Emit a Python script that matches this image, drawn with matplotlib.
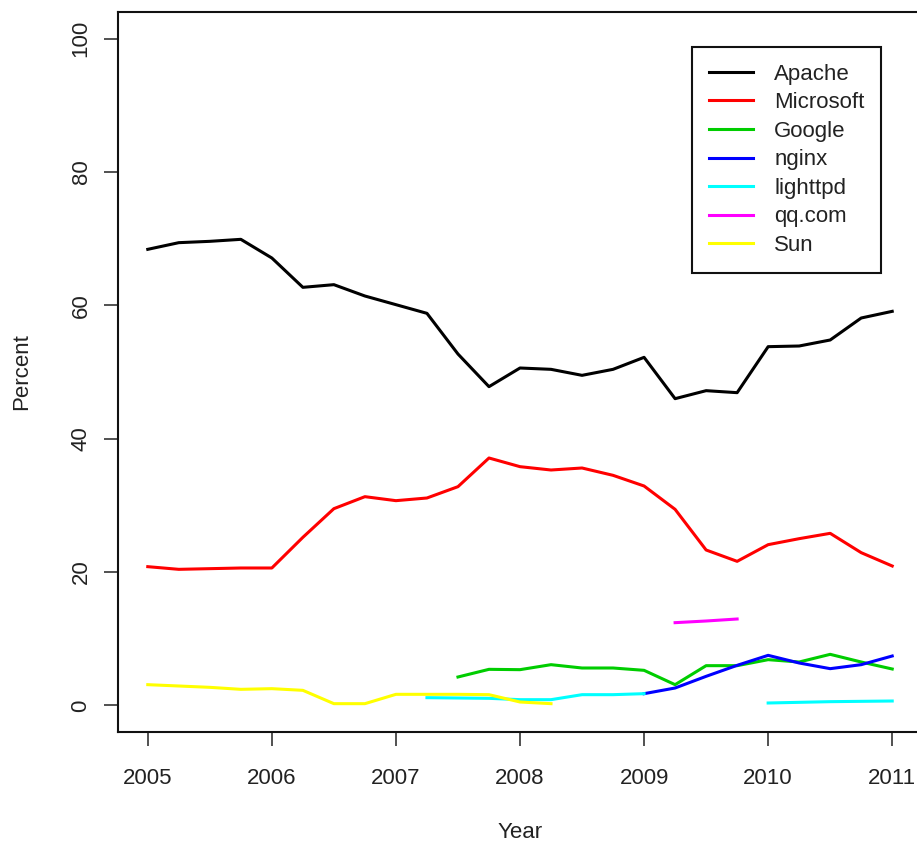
import numpy as np
import matplotlib
matplotlib.use("Agg")
import matplotlib.pyplot as plt

plt.rcParams['font.family'] = ['Liberation Sans', 'DejaVu Sans']

nan = np.nan
years = [2005 + 0.25 * i for i in range(25)]

apache = [68.4, 69.4, 69.6, 69.9, 67.1, 62.7, 63.1, 61.4, 60.1, 58.8, 52.7, 47.8,
          50.6, 50.4, 49.5, 50.4, 52.2, 46.0, 47.2, 46.9, 53.8, 53.9, 54.8, 58.1, 59.1]
microsoft = [20.8, 20.4, 20.5, 20.6, 20.6, 25.2, 29.5, 31.3, 30.7, 31.1, 32.8, 37.1,
             35.8, 35.3, 35.6, 34.5, 32.9, 29.4, 23.3, 21.6, 24.1, 25.0, 25.8, 22.9, 20.9]
google = [nan, nan, nan, nan, nan, nan, nan, nan, nan, nan, 4.25, 5.4,
          5.35, 6.1, 5.6, 5.6, 5.25, 3.1, 5.95, 5.95, 6.85, 6.5, 7.65, 6.5, 5.45]
nginx = [nan, nan, nan, nan, nan, nan, nan, nan, nan, nan, nan, nan,
         nan, nan, nan, nan, 1.75, 2.6, 4.35, 6.0, 7.5, 6.35, 5.5, 6.1, 7.4]
lighttpd = [nan, nan, nan, nan, nan, nan, nan, nan, nan, 1.15, 1.1, 1.05,
            0.85, 0.85, 1.6, 1.6, 1.75, nan, nan, nan, 0.35, 0.45, 0.55, 0.6, 0.65]
qqcom = [nan, nan, nan, nan, nan, nan, nan, nan, nan, nan, nan, nan,
         nan, nan, nan, nan, nan, 12.4, 12.65, 12.95, nan, nan, nan, nan, nan]
sun = [3.1, 2.9, 2.7, 2.4, 2.5, 2.25, 0.25, 0.25, 1.65, 1.65, 1.65, 1.6,
       0.5, 0.25, nan, nan, nan, nan, nan, nan, nan, nan, nan, nan, nan]

series = [("Apache", apache, "#000000"),
          ("Microsoft", microsoft, "#ff0000"),
          ("Google", google, "#00cd00"),
          ("nginx", nginx, "#0000ff"),
          ("lighttpd", lighttpd, "#00ffff"),
          ("qq.com", qqcom, "#ff00ff"),
          ("Sun", sun, "#ffff00")]

W, H = 917, 843
fig = plt.figure(figsize=(W / 100, H / 100), dpi=100)
L, R, T, B = 118, 922, 12, 732
ax = fig.add_axes([L / W, 1 - B / H, (R - L) / W, (B - T) / H])

for name, vals, col in series:
    ax.plot(years, vals, color=col, lw=2.2, label=name)

ax.set_xlim(2004.76, 2011.24)
ax.set_ylim(-4, 104)
ax.set_xticks([2005, 2006, 2007, 2008, 2009, 2010, 2011])
ax.set_yticks([0, 20, 40, 60, 80, 100])
ax.tick_params(axis='both', length=10, width=1.1, labelsize=16, color='#222222', labelcolor='#222222')
ax.tick_params(axis='x', pad=16)
ax.tick_params(axis='y', pad=9)
for lab in ax.get_yticklabels():
    lab.set_rotation(90)
    lab.set_va('center')
for s in ax.spines.values():
    s.set_linewidth(1.5)
    s.set_color('#111111')

ax.set_xlabel("Year", fontsize=16, color='#222222')
ax.set_ylabel("Percent", fontsize=16, color='#222222')
ax.xaxis.set_label_coords(0.5, -0.140)
ax.yaxis.set_label_coords(-0.1194, 0.5)
ax.xaxis.label.set_va('center')
ax.yaxis.label.set_va('center')

leg = ax.legend(loc='upper left', bbox_to_anchor=((692 - L) / (R - L), (B - 47) / (B - T)),
                borderaxespad=0, fontsize=16, frameon=True, fancybox=False,
                handlelength=2.0, handletextpad=0.95, labelspacing=0.34, borderpad=0.75)
fr = leg.get_frame()
fr.set_edgecolor('#111111')
fr.set_linewidth(1.5)
fr.set_alpha(1)
for t in leg.get_texts():
    t.set_color('#222222')

fig.savefig("out.png", dpi=100)
